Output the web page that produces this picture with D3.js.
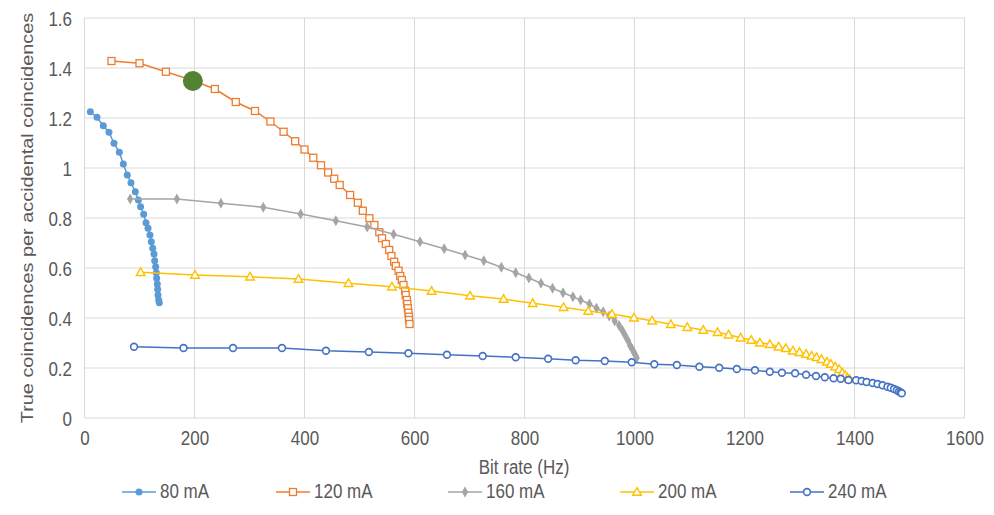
<!DOCTYPE html>
<html><head><meta charset="utf-8">
<script src="https://cdn.jsdelivr.net/npm/d3@7"></script>
<style>body{margin:0;background:#fff}svg{display:block;font-family:"Liberation Sans",Arial,sans-serif}</style>
</head><body><svg id="c" width="994" height="515"></svg>
<script>
const xTicks = [0,200,400,600,800,1000,1200,1400,1600];
const yTicks = [0,0.2,0.4,0.6,0.8,1,1.2,1.4,1.6];
const seriesNames = ["80 mA","120 mA","160 mA","200 mA","240 mA"];
const x80 = [10.6,22.7,34.2,44.5,53.6,63.3,70.6,77.8,84.5,92.4,97.9,102,107.6,111.8,115.5,119,121.5,124,126.4,127.6,129.4,130.6,131.2,132.4,133,133.6,134.9,136];
const y80 = [1.225,1.203,1.169,1.143,1.099,1.063,1.016,0.972,0.941,0.905,0.872,0.845,0.815,0.781,0.759,0.732,0.705,0.679,0.656,0.629,0.605,0.581,0.559,0.536,0.515,0.492,0.472,0.461];
const x120 = [49,100,148,197,237,275,310,338,362,383,400,416,430,443,454,464,483,497,506,518,527,536,541,548,554,558,563,566,571,574,577,580,583,584,586,587,588,589,590,590,591];
const y120 = [1.428,1.419,1.385,1.35,1.316,1.264,1.228,1.186,1.145,1.107,1.074,1.041,1.011,0.982,0.957,0.932,0.892,0.861,0.829,0.799,0.772,0.743,0.719,0.696,0.672,0.648,0.625,0.608,0.589,0.568,0.552,0.532,0.509,0.492,0.472,0.456,0.439,0.421,0.405,0.392,0.376];
const x160 = [83,168,248,325,393,457,514,562,610,654,692,726,758,784,808,830,851,870,888,902,918,931,943,954,964,972,978,983,988,992,996,999,1002,1004];
const y160 = [0.876,0.876,0.859,0.843,0.816,0.789,0.764,0.735,0.705,0.677,0.652,0.629,0.603,0.581,0.56,0.539,0.519,0.501,0.485,0.472,0.456,0.439,0.425,0.408,0.388,0.37,0.35,0.33,0.31,0.29,0.275,0.262,0.25,0.24];
const x200 = [102,201,301,389,480,559,631,701,762,815,871,916,959,999,1032,1066,1096,1125,1151,1171,1193,1212,1228,1246,1262,1275,1288,1300,1312,1322,1331,1340,1350,1357,1365,1372,1378,1383,1387,1391];
const y200 = [0.583,0.572,0.565,0.556,0.539,0.525,0.508,0.489,0.476,0.459,0.443,0.428,0.416,0.401,0.389,0.375,0.363,0.352,0.343,0.333,0.321,0.312,0.301,0.295,0.285,0.279,0.269,0.263,0.256,0.249,0.243,0.235,0.225,0.216,0.205,0.195,0.181,0.171,0.161,0.155];
const x240 = [90,180,270,359,439,517,589,659,724,784,843,893,946,995,1036,1077,1118,1154,1186,1219,1246,1268,1292,1312,1330,1346,1362,1375,1389,1403,1413,1422,1433,1442,1451,1460,1466,1472,1477,1481,1484,1486];
const y240 = [0.285,0.28,0.28,0.28,0.269,0.264,0.259,0.253,0.248,0.243,0.237,0.231,0.228,0.223,0.215,0.212,0.205,0.201,0.196,0.191,0.185,0.181,0.179,0.173,0.168,0.163,0.159,0.157,0.152,0.151,0.148,0.144,0.14,0.136,0.131,0.125,0.121,0.116,0.111,0.106,0.102,0.099];
const highlightX = [197];
const highlightY = [1.348];

const colors = ["#5B9BD5","#ED7D31","#A5A5A5","#FFC000","#4472C4"];
const markers = ["dot","square","diamond","triangle","circle"];
const xs = [x80,x120,x160,x200,x240], ys = [y80,y120,y160,y200,y240];
const series = seriesNames.map((n,i)=>({name:n,color:colors[i],marker:markers[i],pts:xs[i].map((v,j)=>[v,ys[i][j]])}));

const FS = 17, STRETCH = 1.15, TXT = "#595959";
const svg = d3.select("#c");
const x = d3.scaleLinear().domain([0,1600]).range([84.5,964.5]);
const y = d3.scaleLinear().domain([0,1.6]).range([418,18]);

// gridlines
const g = svg.append("g");
g.selectAll(".vg").data(xTicks).join("line").attr("x1",d=>x(d)).attr("x2",d=>x(d)).attr("y1",y(0)).attr("y2",y(1.6)).attr("stroke","#d9d9d9").attr("stroke-width",1);
g.selectAll(".hg").data(yTicks).join("line").attr("y1",d=>y(d)).attr("y2",d=>y(d)).attr("x1",x(0)).attr("x2",x(1600)).attr("stroke","#d9d9d9").attr("stroke-width",1);

// axes (labels stretched vertically like the reference)
const xa = svg.append("g").attr("transform",`translate(0,${y(0)})`).call(d3.axisBottom(x).tickValues(xTicks).tickSize(0).tickFormat(d3.format("d")));
const ya = svg.append("g").attr("transform",`translate(${x(0)},0)`).call(d3.axisLeft(y).tickValues(yTicks).tickSize(0).tickFormat(d=>String(+d.toFixed(1))));
[xa,ya].forEach(a=>{a.select(".domain").remove();a.selectAll("text").attr("fill",TXT).attr("font-size",FS).attr("font-family","'Liberation Sans',Arial,sans-serif").attr("dy",null).attr("x",null).attr("y",null);});
xa.selectAll("text").attr("transform",`translate(0,27) scale(1,${STRETCH})`);
ya.selectAll("text").attr("transform",`translate(-12.5,7) scale(1,${STRETCH})`);

function stext(tx,ty,str,anchor){
  svg.append("g").attr("transform",`translate(${tx},${ty}) scale(1,${STRETCH})`)
    .append("text").attr("text-anchor",anchor||"start").attr("fill",TXT).attr("font-size",FS).text(str);
}
stext(524,474,"Bit rate (Hz)","middle");
svg.append("g").attr("transform","translate(33,218) rotate(-90) scale(1.17,1)")
  .append("text").attr("text-anchor","middle").attr("fill",TXT).attr("font-size",FS).text("True coincidences per accidental coincidences");

function drawMarker(sel, type, color){
  if(type==="dot") sel.append("circle").attr("r",3.5).attr("fill",color);
  else if(type==="circle") sel.append("circle").attr("r",3.4).attr("fill","#fff").attr("stroke",color).attr("stroke-width",1.6);
  else if(type==="square") sel.append("rect").attr("x",-3.5).attr("y",-3.5).attr("width",7).attr("height",7).attr("fill","#fff").attr("stroke",color).attr("stroke-width",1.3);
  else if(type==="diamond") sel.append("path").attr("d",d3.symbol(d3.symbolDiamond,34)()).attr("fill",color);
  else if(type==="triangle") sel.append("path").attr("d","M0,-4.3L4.3,3.2L-4.3,3.2Z").attr("fill","#fff").attr("stroke",color).attr("stroke-width",1.4);
}

const line = d3.line().x(d=>x(d[0])).y(d=>y(d[1]));
series.forEach(s=>{
  const sg = svg.append("g");
  sg.append("path").attr("d",line(s.pts)).attr("fill","none").attr("stroke",s.color).attr("stroke-width",1.5);
  sg.selectAll("g.m").data(s.pts).join("g").attr("class","m").attr("transform",d=>`translate(${x(d[0])},${y(d[1])})`).each(function(){drawMarker(d3.select(this),s.marker,s.color);});
});

svg.selectAll("circle.hl").data(highlightX).join("circle").attr("class","hl").attr("cx",d=>x(d)).attr("cy",(d,i)=>y(highlightY[i])).attr("r",10).attr("fill","#548235");

// legend
const legX = [122,276,448,620,790];
series.forEach((s,i)=>{
  const lg = svg.append("g").attr("transform",`translate(${legX[i]},492)`);
  lg.append("line").attr("x1",0).attr("x2",34).attr("stroke",s.color).attr("stroke-width",1.5);
  const m = lg.append("g").attr("transform","translate(17,0)");
  drawMarker(m,s.marker,s.color);
  stext(legX[i]+38,498,s.name,"start");
});
</script></body></html>
